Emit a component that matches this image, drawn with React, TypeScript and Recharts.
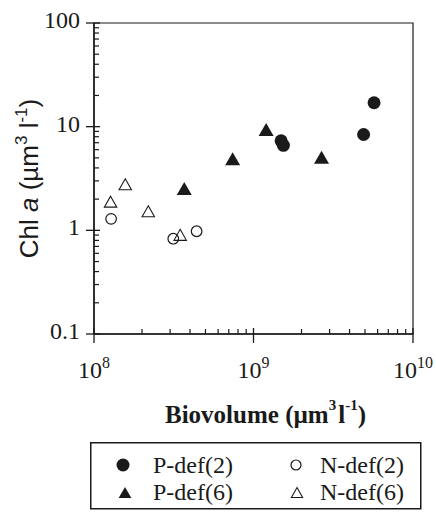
import React from "react";
import { ScatterChart, Scatter, XAxis, YAxis, ReferenceArea, Legend } from "recharts";

// values (biovolume in um3/l, chl a in um3/l)
const pDef2Biovolume = [1.49e9, 1.54e9, 4.9e9, 5.7e9];
const pDef2Chl = [7.3, 6.6, 8.4, 17.0];
const pDef6Biovolume = [3.68e8, 7.4e8, 1.2e9, 2.67e9];
const pDef6Chl = [2.5, 4.85, 9.3, 5.0];
const nDef2Biovolume = [1.28e8, 3.14e8, 4.4e8];
const nDef2Chl = [1.29, 0.83, 0.98];
const nDef6Biovolume = [1.27e8, 1.57e8, 2.19e8, 3.47e8];
const nDef6Chl = [1.87, 2.75, 1.51, 0.895];

const xMajor = [1e8, 1e9, 1e10];
const xExponents = ["8", "9", "10"];
const yMajor = [0.1, 1, 10, 100];
const yLabels = ["0.1", "1", "10", "100"];
const minorSteps = [2, 3, 4, 5, 6, 7, 8, 9];

const withMinors = (majors: number[]) => {
    const out: number[] = [];
    majors.forEach((m, i) => {
        out.push(m);
        if (i < majors.length - 1) minorSteps.forEach((k) => out.push(k * m));
    });
    return out;
};
const xTicks = withMinors(xMajor);
const yTicks = withMinors(yMajor);

const toPoints = (xs: number[], ys: number[]) => xs.map((x, i) => ({ x, y: ys[i] }));
const pDef2 = toPoints(pDef2Biovolume, pDef2Chl);
const pDef6 = toPoints(pDef6Biovolume, pDef6Chl);
const nDef2 = toPoints(nDef2Biovolume, nDef2Chl);
const nDef6 = toPoints(nDef6Biovolume, nDef6Chl);

const SERIF = '"Liberation Serif", "Times New Roman", serif';
const SANS = '"Liberation Sans", Arial, sans-serif';
const INK = "#1a1a1a";

const FilledCircle = ({ cx, cy, r = 6.5 }: any) => <circle cx={cx} cy={cy} r={r} fill={INK} />;
const OpenCircle = ({ cx, cy, r = 5.3 }: any) => (
    <circle cx={cx} cy={cy} r={r} fill="none" stroke={INK} strokeWidth={1.2} />
);
const FilledTriangle = ({ cx, cy, s = 1 }: any) => (
    <path d={`M${cx},${cy - 7 * s} L${cx + 7.5 * s},${cy + 6 * s} L${cx - 7.5 * s},${cy + 6 * s} Z`} fill={INK} />
);
const OpenTriangle = ({ cx, cy, s = 1 }: any) => (
    <path
        d={`M${cx},${cy - 6 * s} L${cx + 6.2 * s},${cy + 5 * s} L${cx - 6.2 * s},${cy + 5 * s} Z`}
        fill="none"
        stroke={INK}
        strokeWidth={1.1}
    />
);

const XTick = ({ x, y, payload }: any) => {
    const i = xMajor.indexOf(payload.value);
    if (i < 0) return <line x1={x} x2={x} y1={y} y2={y - 5} stroke={INK} strokeWidth={1.2} />;
    return (
        <g>
            <line x1={x} x2={x} y1={y - 6} y2={y + 9} stroke={INK} strokeWidth={1.3} />
            <text x={x} y={y + 44} textAnchor="middle" fontFamily={SERIF} fontSize={24} fill={INK}>
                10
                <tspan dy={-10} fontSize={16}>{xExponents[i]}</tspan>
            </text>
        </g>
    );
};

const YTick = ({ x, y, payload }: any) => {
    const i = yMajor.indexOf(payload.value);
    if (i < 0) return <line x1={x} x2={x + 5} y1={y} y2={y} stroke={INK} strokeWidth={1.2} />;
    return (
        <g>
            <line x1={x - 8} x2={x + 6} y1={y} y2={y} stroke={INK} strokeWidth={1.3} />
            <text x={x - 14} y={y + 5} textAnchor="end" fontFamily={SERIF} fontSize={24} fill={INK}>
                {yLabels[i]}
            </text>
        </g>
    );
};

const XLabel = ({ viewBox }: any) => (
    <text
        x={viewBox.x + viewBox.width / 2 + 12}
        y={viewBox.y + 89}
        textAnchor="middle"
        fontFamily={SERIF}
        fontWeight="bold"
        fontSize={25}
        fill={INK}
    >
        Biovolume (µm
        <tspan dy={-13} fontSize={15}>3</tspan>
        <tspan dy={13} dx={2}>l</tspan>
        <tspan dy={-13} fontSize={15}>-1</tspan>
        <tspan dy={13}>)</tspan>
    </text>
);

const YLabel = ({ viewBox }: any) => {
    const cy = viewBox.y + viewBox.height / 2;
    return (
        <text
            x={38}
            y={cy}
            transform={`rotate(-90, 38, ${cy})`}
            textAnchor="middle"
            fontFamily={SANS}
            fontSize={26}
            fill={INK}
        >
            Chl <tspan fontStyle="italic">a</tspan> (µm
            <tspan dy={-11} fontSize={17}>3</tspan>
            <tspan dy={11}> l</tspan>
            <tspan dy={-11} fontSize={17}>-1</tspan>
            <tspan dy={11}>)</tspan>
        </text>
    );
};

const LegendBox = () => (
    <svg width={332} height={68}>
        <rect x={0.75} y={0.75} width={330} height={66} fill="#fff" stroke={INK} strokeWidth={1.5} />
        <FilledCircle cx={33} cy={23} r={6.5} />
        <FilledTriangle cx={35} cy={51} s={0.85} />
        <OpenCircle cx={206} cy={23} r={5} />
        <OpenTriangle cx={207} cy={51} s={0.9} />
        <text x={63} y={31} fontFamily={SERIF} fontSize={24} fill={INK}>P-def(2)</text>
        <text x={63} y={57.5} fontFamily={SERIF} fontSize={24} fill={INK}>P-def(6)</text>
        <text x={230} y={31} fontFamily={SERIF} fontSize={24} fill={INK}>N-def(2)</text>
        <text x={230} y={57.5} fontFamily={SERIF} fontSize={24} fill={INK}>N-def(6)</text>
    </svg>
);

const App = () => {
    return (
        <div style={{ position: "absolute", left: 0, top: 0, width: 436, height: 513, background: "#fff" }}>
            <ScatterChart width={436} height={513} margin={{ top: 23, right: 23, bottom: 119, left: 0 }}>
                <XAxis
                    dataKey="x"
                    type="number"
                    scale="log"
                    domain={[1e8, 1e10]}
                    allowDataOverflow
                    ticks={xTicks}
                    interval={0}
                    tick={(p: any) => <XTick {...p} />}
                    tickLine={false}
                    tickSize={0}
                    tickMargin={0}
                    axisLine={{ stroke: INK, strokeWidth: 1.5 }}
                    height={60}
                    label={(p: any) => <XLabel {...p} />}
                />
                <YAxis
                    dataKey="y"
                    type="number"
                    scale="log"
                    domain={[0.1, 100]}
                    allowDataOverflow
                    ticks={yTicks}
                    interval={0}
                    tick={(p: any) => <YTick {...p} />}
                    tickLine={false}
                    tickSize={0}
                    tickMargin={0}
                    axisLine={{ stroke: INK, strokeWidth: 1.5 }}
                    width={94}
                    label={(p: any) => <YLabel {...p} />}
                />
                <ReferenceArea x1={1e8} x2={1e10} y1={0.1} y2={100} fill="none" stroke={INK} strokeWidth={1.2} />
                <Scatter name="N-def(6)" data={nDef6} shape={(p: any) => <OpenTriangle {...p} />} isAnimationActive={false} />
                <Scatter name="N-def(2)" data={nDef2} shape={(p: any) => <OpenCircle {...p} />} isAnimationActive={false} />
                <Scatter name="P-def(6)" data={pDef6} shape={(p: any) => <FilledTriangle {...p} />} isAnimationActive={false} />
                <Scatter name="P-def(2)" data={pDef2} shape={(p: any) => <FilledCircle {...p} />} isAnimationActive={false} />
                <Legend
                    layout="horizontal"
                    verticalAlign="middle"
                    align="center"
                    wrapperStyle={{ left: 90, top: 442, width: 332, height: 68 }}
                    content={() => <LegendBox />}
                />
            </ScatterChart>
        </div>
    );
};

export default App;
